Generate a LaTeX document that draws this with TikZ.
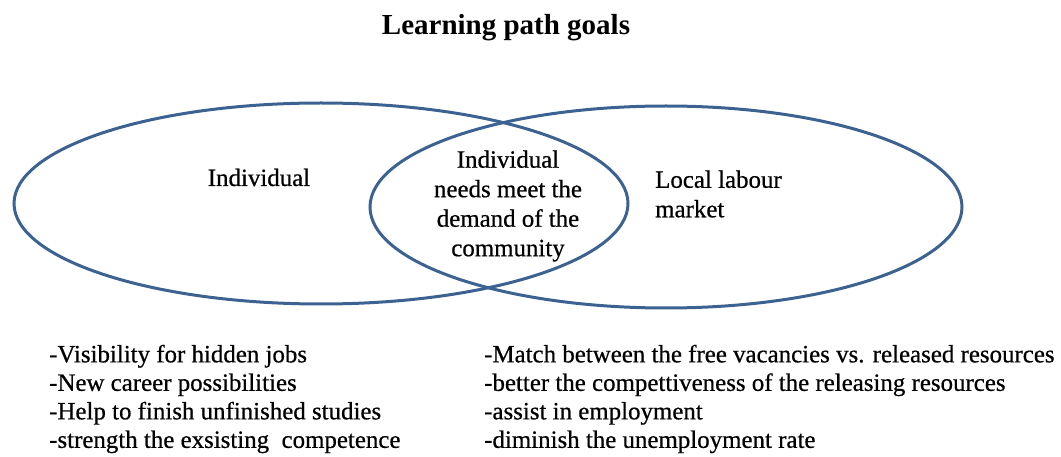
\documentclass[tikz,border=0pt]{standalone}
\usepackage{fontspec}
\setmainfont{Liberation Serif}
\newfontfamily\heavyserif{Liberation Serif}[FakeBold=0.6]
\usetikzlibrary{shapes.geometric}
\definecolor{ringblue}{RGB}{60,98,145}
\begin{document}
\begin{tikzpicture}[x=1pt,y=-1pt,
  ring/.style={ellipse, draw=ringblue, line width=3pt, inner sep=0pt},
  lbl/.style={inner sep=0pt, font=\heavyserif\fontsize{24.9}{29.5}\selectfont},
  listtxt/.style={inner sep=0pt, align=left, font=\heavyserif\fontsize{24.9}{28.5}\selectfont}]
\useasboundingbox (0,0) rectangle (1061,457);
\node[inner sep=0pt, anchor=base, font=\fontsize{29}{34}\selectfont\bfseries] (title) at (506,35) {Learning path goals};
\node[ring, minimum width=614pt, minimum height=201pt] (indiv) at (321,203.5) {};
\node[ring, minimum width=592pt, minimum height=202pt] (market) at (666,207) {};
\node[lbl, anchor=base] (indivlbl) at (259,186) {Individual};
\node[lbl, align=center, anchor=center] (meet) at (508,206) {Individual\\needs meet the\\demand of the\\community};
\node[lbl, align=left, anchor=west] (marketlbl) at (655,194) {Local labour\\market};
\node[listtxt, anchor=west] (leftlist) at (49,399) {-Visibility for hidden jobs\\-New career possibilities\\-Help to finish unfinished studies\\-strength the exsisting\ \ competence};
\node[listtxt, anchor=west] (rightlist) at (484,399) {-Match between the free vacancies vs. released resources\\-better the compettiveness of the releasing resources\\-assist in employment\\-diminish the unemployment rate};
\end{tikzpicture}
\end{document}
